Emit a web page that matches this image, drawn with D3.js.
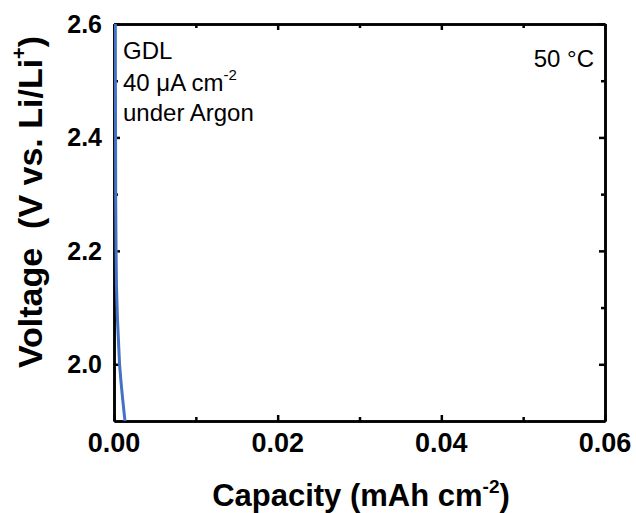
<!DOCTYPE html>
<html><head><meta charset="utf-8">
<script src="https://cdn.jsdelivr.net/npm/d3@7"></script>
<style>body{margin:0;background:#fff}svg{display:block}text{font-family:Arial,"Liberation Sans",sans-serif}</style>
</head><body><div id="chart"></div>
<script>
const capacity = [0.00016, 0.00017, 0.00019, 0.00021, 0.00025, 0.0003, 0.00042, 0.00055, 0.00068, 0.00085, 0.00105, 0.00134, 0.0016];
const voltage  = [2.62, 2.5, 2.4, 2.28, 2.2, 2.14, 2.08, 2.04, 2.0, 1.97, 1.94, 1.9, 1.86];
const xTicks = [0, 0.02, 0.04, 0.06];
const xMinor = [0.01, 0.03, 0.05];
const yTicks = [2.0, 2.2, 2.4, 2.6];
const yMinor = [2.1, 2.3, 2.5];
const W = 636, H = 513;
const m = {l:114, r:31, t:24, b:92};
const svg = d3.select("#chart").append("svg").attr("width", W).attr("height", H);
const x = d3.scaleLinear().domain([0, 0.06]).range([m.l, W - m.r]);
const y = d3.scaleLinear().domain([1.9, 2.6]).range([H - m.b, m.t]);

svg.append("clipPath").attr("id","clip").append("rect")
  .attr("x", m.l).attr("y", m.t).attr("width", x(0.06)-m.l).attr("height", y(1.9)-m.t);

const tickLen = 6, minorLen = 4;
function ax(gen, tx, ty){ return svg.append("g").attr("transform",`translate(${tx},${ty})`).call(gen); }
const styleAx = g => { g.select(".domain").attr("stroke","#000").attr("stroke-width",2.5);
  g.selectAll(".tick line").attr("stroke","#000").attr("stroke-width",2.5); g.selectAll("text").remove(); };
[["B",0,y(1.9)],["T",0,y(2.6)]].forEach(([k,tx,ty])=>{
  const A = k==="B" ? d3.axisBottom : d3.axisTop;
  ax(A(x).tickValues(xTicks).tickSizeInner(-tickLen).tickSizeOuter(0),tx,ty).call(styleAx);
  ax(A(x).tickValues(xMinor).tickSizeInner(-minorLen).tickSizeOuter(0),tx,ty).call(styleAx);
});
[["L",0,x(0)],["R",1,x(0.06)]].forEach(([k,r,tx])=>{
  const A = r ? d3.axisRight : d3.axisLeft;
  ax(A(y).tickValues(yTicks).tickSizeInner(-tickLen).tickSizeOuter(0),tx,0).call(styleAx);
  ax(A(y).tickValues(yMinor).tickSizeInner(-minorLen).tickSizeOuter(0),tx,0).call(styleAx);
});

svg.append("path").datum(capacity.map((c,i)=>[c, voltage[i]]))
  .attr("clip-path","url(#clip)")
  .attr("fill","none").attr("stroke","#4472C4").attr("stroke-width",3)
  .attr("d", d3.line().x(d=>x(d[0])).y(d=>y(d[1])));

// tick labels
svg.append("g").selectAll("text").data(xTicks).join("text")
  .attr("x", d=>x(d)).attr("y", 452).attr("text-anchor","middle")
  .attr("font-size",27).attr("font-weight","bold").text(d=>d3.format(".2f")(d));
svg.append("g").selectAll("text").data(yTicks).join("text")
  .attr("x", 102).attr("y", d=>y(d)+9).attr("text-anchor","end")
  .attr("font-size",25).attr("font-weight","bold").text(d=>d3.format(".1f")(d));
// axis titles
const xt = svg.append("text").attr("x", 361).attr("y", 506).attr("text-anchor","middle")
  .attr("font-size",31).attr("font-weight","bold");
xt.append("tspan").text("Capacity (mAh cm");
xt.append("tspan").attr("font-size",19).attr("dy",-13).text("-2");
xt.append("tspan").attr("dy",13).text(")");
const yt = svg.append("text").attr("transform","translate(42,202) rotate(-90)").attr("text-anchor","middle")
  .attr("font-size",34).attr("font-weight","bold");
yt.append("tspan").text("Voltage\u00a0\u00a0(V vs. Li/Li");
yt.append("tspan").attr("font-size",20).attr("dy",-16).text("+");
yt.append("tspan").attr("dy",16).text(")");
// annotations
const ann = svg.append("g").attr("font-size",24);
ann.append("text").attr("x",123).attr("y",59).text("GDL");
const t2 = ann.append("text").attr("x",123).attr("y",91);
t2.append("tspan").text("40 \u03bcA cm");
t2.append("tspan").attr("font-size",15).attr("dy",-11).text("-2");
ann.append("text").attr("x",123).attr("y",121).text("under Argon");
ann.append("text").attr("x",594).attr("y",67).attr("text-anchor","end").text("50 \u00b0C");
</script></body></html>
